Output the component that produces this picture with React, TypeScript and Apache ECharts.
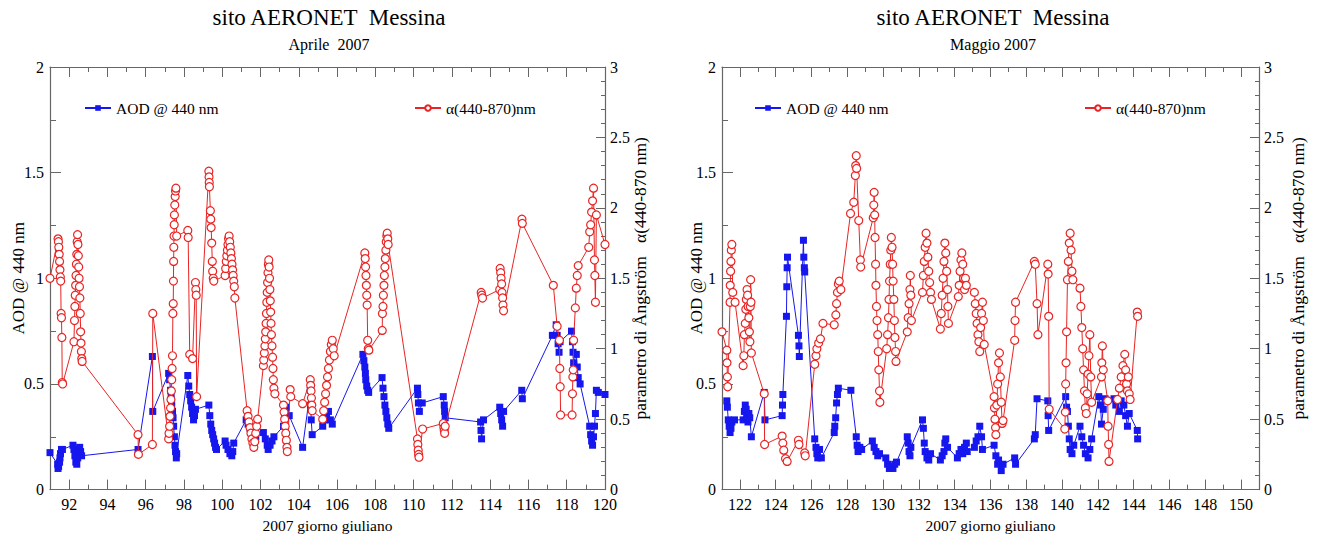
import React, { useEffect, useRef } from 'react';
import * as echarts from 'echarts';

const FONT = 'Liberation Serif';
const BLUE = '#1616ee';
const RED = '#e82424';
const AXIS = '#666666';

const mainTitle = 'sito AERONET  Messina';
const subTitles = ['Aprile  2007', 'Maggio 2007'];
const xName = '2007 giorno giuliano';
const yLeftName = 'AOD @ 440 nm';
const yRightName = 'parametro di Ångström   α(440-870 nm)';
const aodName = 'AOD @ 440 nm';
const alphaName = 'α(440-870)nm';

const aprilRange = [91, 120];
const mayRange = [121, 151];
const aprilLabelDays = [92, 94, 96, 98, 100, 102, 104, 106, 108, 110, 112, 114, 116, 118, 120];
const mayLabelDays = [122, 124, 126, 128, 130, 132, 134, 136, 138, 140, 142, 144, 146, 148, 150];

// [giorno giuliano, AOD @ 440 nm] - Aprile 2007
const aprilAod: number[][] = [
  [91.0, 0.175],
  [91.4, 0.12], [91.42, 0.10], [91.45, 0.11], [91.5, 0.13], [91.52, 0.15], [91.55, 0.17], [91.6, 0.19], [91.65, 0.19],
  [92.2, 0.21], [92.25, 0.19], [92.3, 0.16], [92.35, 0.13], [92.4, 0.12], [92.45, 0.15], [92.5, 0.18], [92.55, 0.2], [92.6, 0.18], [92.65, 0.16],
  [95.6, 0.19],
  [96.35, 0.63], [96.37, 0.37],
  [97.2, 0.55], [97.25, 0.52], [97.3, 0.47], [97.33, 0.44], [97.36, 0.4], [97.4, 0.37], [97.43, 0.34], [97.46, 0.3], [97.5, 0.25], [97.53, 0.21], [97.56, 0.18], [97.6, 0.15], [97.62, 0.17],
  [98.2, 0.54], [98.25, 0.49], [98.3, 0.45], [98.35, 0.42], [98.4, 0.39], [98.45, 0.36], [98.5, 0.33], [98.55, 0.35], [98.6, 0.38],
  [99.3, 0.4], [99.35, 0.35], [99.4, 0.31], [99.45, 0.28], [99.5, 0.26], [99.55, 0.24], [99.6, 0.22], [99.65, 0.2], [99.7, 0.19],
  [100.15, 0.23], [100.2, 0.21], [100.3, 0.19], [100.4, 0.17], [100.5, 0.16], [100.55, 0.18], [100.6, 0.22],
  [101.25, 0.33], [101.35, 0.31], [101.45, 0.29], [101.55, 0.27], [101.65, 0.26], [101.75, 0.25],
  [102.15, 0.27], [102.25, 0.24], [102.35, 0.21], [102.4, 0.19], [102.5, 0.21], [102.6, 0.23], [102.7, 0.25],
  [103.2, 0.3], [103.25, 0.34], [103.3, 0.37], [103.35, 0.39], [103.5, 0.35],
  [104.2, 0.2],
  [104.6, 0.47], [104.62, 0.4], [104.65, 0.33], [104.7, 0.26],
  [105.25, 0.3], [105.35, 0.33], [105.45, 0.35], [105.55, 0.37], [105.65, 0.33], [105.75, 0.31],
  [107.35, 0.64], [107.4, 0.61], [107.45, 0.58], [107.48, 0.55], [107.5, 0.52], [107.55, 0.49], [107.6, 0.47], [107.65, 0.46],
  [108.35, 0.53], [108.4, 0.48], [108.45, 0.44], [108.5, 0.4], [108.55, 0.37], [108.6, 0.34], [108.65, 0.31], [108.7, 0.29],
  [110.2, 0.48], [110.22, 0.45], [110.25, 0.41], [110.3, 0.37], [110.45, 0.41],
  [111.55, 0.44], [111.6, 0.4], [111.62, 0.37], [111.65, 0.34],
  [113.5, 0.32], [113.52, 0.28], [113.55, 0.24], [113.65, 0.33],
  [114.5, 0.39], [114.55, 0.36], [114.6, 0.33], [114.65, 0.3], [114.7, 0.37],
  [115.65, 0.47], [115.68, 0.43],
  [117.25, 0.73], [117.45, 0.78], [117.5, 0.73], [117.55, 0.69], [117.6, 0.65], [117.65, 0.7],
  [118.25, 0.75], [118.3, 0.7], [118.33, 0.65], [118.36, 0.6], [118.5, 0.64], [118.55, 0.58], [118.6, 0.53], [118.7, 0.5],
  [119.2, 0.3], [119.25, 0.26], [119.3, 0.23], [119.35, 0.21], [119.4, 0.25], [119.45, 0.3], [119.5, 0.36], [119.55, 0.47], [119.65, 0.46],
  [120.0, 0.45],
];

// [giorno giuliano, alfa di Angstrom] - Aprile 2007
const aprilAlpha: number[][] = [
  [91.0, 1.5],
  [91.42, 1.78], [91.44, 1.76], [91.46, 1.72], [91.48, 1.67], [91.5, 1.62], [91.52, 1.56], [91.54, 1.51], [91.56, 1.48], [91.58, 1.25], [91.6, 1.22], [91.62, 1.08], [91.64, 0.76], [91.66, 0.75],
  [92.25, 1.05], [92.28, 1.2], [92.3, 1.3], [92.32, 1.38], [92.34, 1.45], [92.36, 1.52], [92.38, 1.6], [92.4, 1.67], [92.42, 1.76], [92.44, 1.81], [92.46, 1.74], [92.48, 1.66], [92.5, 1.58], [92.52, 1.5], [92.54, 1.44], [92.56, 1.36], [92.58, 1.25], [92.6, 1.12], [92.62, 1.04], [92.64, 0.98], [92.66, 0.93], [92.68, 0.91],
  [95.6, 0.39], [95.62, 0.25],
  [96.35, 0.32], [96.37, 1.25],
  [97.2, 0.36], [97.22, 0.4], [97.25, 0.45], [97.27, 0.52], [97.3, 0.58], [97.32, 0.64], [97.34, 0.7], [97.36, 0.78], [97.38, 0.86], [97.4, 0.95], [97.42, 1.25], [97.44, 1.32], [97.45, 1.48], [97.46, 1.62], [97.47, 1.72], [97.48, 1.8], [97.49, 1.88], [97.5, 1.95], [97.52, 2.02], [97.54, 2.08], [97.56, 2.12], [97.58, 2.14], [97.62, 1.8],
  [98.2, 1.84], [98.22, 1.79], [98.3, 0.96], [98.45, 0.93], [98.6, 1.47], [98.62, 1.42], [98.64, 1.38], [98.66, 0.66],
  [99.3, 2.26], [99.31, 2.22], [99.32, 2.18], [99.33, 2.15], [99.38, 1.98], [99.4, 1.92], [99.42, 1.86], [99.45, 1.75], [99.48, 1.62], [99.5, 1.55], [99.53, 1.5], [99.56, 1.48],
  [100.15, 1.52], [100.18, 1.57], [100.21, 1.62], [100.24, 1.66], [100.27, 1.7], [100.3, 1.74], [100.33, 1.78], [100.36, 1.8], [100.39, 1.76], [100.42, 1.72], [100.45, 1.68], [100.48, 1.64], [100.51, 1.6], [100.54, 1.56], [100.57, 1.52], [100.6, 1.48], [100.63, 1.44], [100.66, 1.36],
  [101.3, 0.56], [101.35, 0.52], [101.4, 0.48], [101.45, 0.44], [101.5, 0.4], [101.55, 0.36], [101.6, 0.33], [101.65, 0.3], [101.7, 0.34], [101.75, 0.4], [101.8, 0.45], [101.85, 0.5],
  [102.15, 0.88], [102.17, 0.92], [102.2, 0.97], [102.23, 1.02], [102.25, 1.07], [102.27, 1.12], [102.29, 1.18], [102.31, 1.25], [102.33, 1.33], [102.35, 1.4], [102.37, 1.47], [102.39, 1.54], [102.41, 1.6], [102.43, 1.63], [102.45, 1.58], [102.47, 1.5], [102.49, 1.42], [102.51, 1.34], [102.53, 1.26], [102.55, 1.18], [102.57, 1.1], [102.6, 1.02], [102.63, 0.94], [102.65, 0.86], [102.67, 0.78], [102.7, 0.72], [102.75, 0.68],
  [103.2, 0.6], [103.23, 0.55], [103.26, 0.5], [103.29, 0.45], [103.32, 0.4], [103.35, 0.35], [103.38, 0.3], [103.4, 0.27], [103.55, 0.71], [103.58, 0.66],
  [104.2, 0.61],
  [104.6, 0.78], [104.62, 0.74], [104.64, 0.7], [104.66, 0.65], [104.68, 0.6], [104.7, 0.56],
  [105.25, 0.5], [105.3, 0.56], [105.35, 0.62], [105.4, 0.68], [105.45, 0.74], [105.5, 0.8], [105.55, 0.86], [105.6, 0.92], [105.65, 0.98], [105.7, 1.03], [105.75, 1.06], [105.8, 1.0], [105.85, 0.95],
  [107.45, 1.68], [107.47, 1.64], [107.49, 1.58], [107.51, 1.52], [107.53, 1.45], [107.55, 1.38], [107.57, 1.31], [107.6, 1.06], [107.63, 1.0], [107.66, 0.99],
  [108.36, 1.13], [108.37, 1.25], [108.4, 1.3], [108.42, 1.38], [108.45, 1.45], [108.47, 1.52], [108.5, 1.58], [108.52, 1.64], [108.55, 1.7], [108.57, 1.76], [108.6, 1.8], [108.62, 1.82], [108.65, 1.78], [108.67, 1.74],
  [110.2, 0.36], [110.22, 0.32], [110.24, 0.28], [110.26, 0.25], [110.28, 0.23], [110.47, 0.43],
  [111.55, 0.47], [111.58, 0.44], [111.6, 0.42], [111.62, 0.4], [111.65, 0.45],
  [113.53, 1.4], [113.56, 1.38], [113.6, 1.36],
  [114.5, 1.42], [114.52, 1.57], [114.55, 1.54], [114.57, 1.5], [114.6, 1.46], [114.62, 1.4], [114.65, 1.36], [114.67, 1.31], [114.7, 1.27],
  [115.66, 1.92], [115.68, 1.89],
  [117.3, 1.45], [117.5, 1.16], [117.62, 1.06], [117.64, 0.86], [117.66, 0.73], [117.68, 0.53],
  [118.28, 0.53], [118.3, 0.68], [118.32, 0.8], [118.34, 0.85], [118.36, 1.06],
  [118.45, 1.29], [118.5, 1.43], [118.55, 1.52], [118.6, 1.59],
  [119.15, 1.72], [119.2, 1.83], [119.25, 1.88], [119.3, 1.97], [119.35, 2.05], [119.4, 2.14], [119.45, 1.63], [119.47, 1.52], [119.5, 1.33], [119.55, 1.95],
  [120.0, 1.74],
];

// [giorno giuliano, AOD @ 440 nm] - Maggio 2007
const mayAod: number[][] = [
  [121.27, 0.42], [121.3, 0.39], [121.35, 0.33], [121.4, 0.3], [121.45, 0.27], [121.5, 0.29], [121.55, 0.32], [121.7, 0.33],
  [122.18, 0.33], [122.25, 0.37], [122.3, 0.4], [122.35, 0.38], [122.4, 0.35], [122.45, 0.32], [122.5, 0.36], [122.55, 0.34], [122.64, 0.25],
  [123.36, 0.46], [123.4, 0.33],
  [124.36, 0.35], [124.38, 0.4], [124.4, 0.45], [124.6, 0.82], [124.62, 0.96], [124.64, 1.05], [124.66, 1.1],
  [125.27, 0.73], [125.3, 0.68], [125.32, 0.63], [125.55, 1.18], [125.57, 1.1], [125.6, 1.05], [125.62, 1.03],
  [126.18, 0.24], [126.25, 0.2], [126.3, 0.17], [126.35, 0.15], [126.45, 0.19], [126.55, 0.15],
  [127.27, 0.27], [127.3, 0.3], [127.35, 0.34], [127.4, 0.41], [127.45, 0.45], [127.5, 0.48],
  [128.2, 0.47],
  [128.5, 0.25], [128.55, 0.21], [128.6, 0.18], [128.7, 0.2], [128.8, 0.19],
  [129.4, 0.23], [129.5, 0.2], [129.6, 0.18], [129.7, 0.16], [129.8, 0.17],
  [130.15, 0.15], [130.25, 0.12], [130.35, 0.1], [130.45, 0.11], [130.55, 0.1], [130.65, 0.12], [130.75, 0.13],
  [131.35, 0.25], [131.4, 0.22], [131.45, 0.18], [131.5, 0.16], [131.55, 0.2],
  [132.2, 0.33], [132.25, 0.29], [132.3, 0.22], [132.35, 0.18], [132.45, 0.15], [132.55, 0.14], [132.65, 0.17],
  [133.2, 0.14], [133.3, 0.16], [133.4, 0.18], [133.45, 0.22], [133.5, 0.24], [133.6, 0.2],
  [134.15, 0.15], [134.25, 0.17], [134.35, 0.19], [134.45, 0.17], [134.55, 0.2], [134.65, 0.22], [134.7, 0.18],
  [135.1, 0.2], [135.2, 0.23], [135.3, 0.25], [135.4, 0.3], [135.5, 0.25], [135.55, 0.19],
  [136.2, 0.21], [136.3, 0.16], [136.4, 0.12], [136.45, 0.14], [136.6, 0.09], [136.7, 0.12],
  [137.35, 0.15], [137.4, 0.12],
  [138.45, 0.24], [138.5, 0.26], [138.6, 0.43],
  [139.2, 0.42], [139.22, 0.35], [139.25, 0.28],
  [140.2, 0.44], [140.25, 0.39], [140.3, 0.37], [140.35, 0.3], [140.4, 0.24], [140.45, 0.19], [140.55, 0.17], [140.65, 0.21],
  [141.0, 0.3], [141.1, 0.25], [141.2, 0.21], [141.3, 0.17], [141.45, 0.15], [141.55, 0.19], [141.65, 0.24],
  [142.05, 0.44], [142.15, 0.4], [142.2, 0.31], [142.3, 0.38], [142.4, 0.43],
  [142.9, 0.43], [143.0, 0.4], [143.2, 0.37], [143.3, 0.42], [143.45, 0.4], [143.55, 0.35], [143.65, 0.3], [143.75, 0.36],
  [144.2, 0.28], [144.22, 0.24],
];

// [giorno giuliano, alfa di Angstrom] - Maggio 2007
const mayAlpha: number[][] = [
  [121.0, 1.12], [121.27, 0.99], [121.28, 0.9], [121.3, 0.8], [121.32, 0.73],
  [121.45, 1.33], [121.46, 1.45], [121.48, 1.55], [121.5, 1.62], [121.52, 1.7], [121.55, 1.74], [121.6, 1.4], [121.73, 1.33],
  [122.18, 0.88], [122.22, 0.95], [122.25, 1.1], [122.3, 1.18], [122.33, 1.28], [122.36, 1.35], [122.4, 1.42], [122.43, 1.38], [122.46, 1.3], [122.5, 1.22], [122.53, 1.12], [122.56, 1.05], [122.58, 1.3], [122.6, 1.49], [122.62, 1.33], [122.64, 0.97],
  [123.36, 0.68], [123.38, 0.32],
  [124.36, 0.38], [124.4, 0.33], [124.45, 0.28], [124.55, 0.22], [124.64, 0.2],
  [125.27, 0.35], [125.3, 0.32], [125.62, 0.26], [125.65, 0.24],
  [126.18, 0.89], [126.25, 0.95], [126.3, 1.0], [126.4, 1.04], [126.5, 1.07], [126.64, 1.18],
  [127.27, 1.17], [127.36, 1.24], [127.4, 1.32], [127.45, 1.4], [127.5, 1.46], [127.55, 1.48], [127.64, 1.42],
  [128.18, 1.96], [128.36, 2.04], [128.45, 2.23], [128.47, 2.3], [128.5, 2.37], [128.52, 2.28], [128.64, 1.91], [128.73, 1.63], [128.75, 1.58],
  [129.45, 1.93], [129.48, 2.02], [129.5, 2.11], [129.53, 1.95], [129.55, 1.79], [129.58, 1.6], [129.6, 1.45], [129.63, 1.3], [129.66, 1.2], [129.7, 1.1], [129.73, 0.98], [129.76, 0.85], [129.8, 0.7], [129.82, 0.62],
  [130.2, 1.0], [130.25, 1.1], [130.3, 1.22], [130.33, 1.35], [130.36, 1.48], [130.4, 1.6], [130.43, 1.7], [130.46, 1.79], [130.5, 1.72], [130.53, 1.6], [130.56, 1.48], [130.6, 1.35], [130.63, 1.2], [130.66, 1.08], [130.7, 0.98], [130.72, 0.91],
  [131.35, 1.12], [131.4, 1.22], [131.45, 1.32], [131.5, 1.42], [131.52, 1.52], [131.55, 1.38], [131.58, 1.2],
  [132.2, 1.4], [132.25, 1.52], [132.3, 1.62], [132.35, 1.72], [132.4, 1.82], [132.45, 1.75], [132.5, 1.65], [132.55, 1.55], [132.6, 1.47], [132.65, 1.4], [132.7, 1.35],
  [133.2, 1.14], [133.25, 1.25], [133.3, 1.38], [133.35, 1.5], [133.4, 1.62], [133.45, 1.75], [133.5, 1.68], [133.55, 1.55], [133.6, 1.42], [133.62, 1.3], [133.65, 1.18],
  [134.2, 1.37], [134.25, 1.45], [134.3, 1.55], [134.35, 1.63], [134.4, 1.68], [134.45, 1.6], [134.5, 1.5], [134.55, 1.42], [134.6, 1.5], [134.65, 1.45],
  [135.1, 1.4], [135.15, 1.32], [135.2, 1.25], [135.25, 1.18], [135.3, 1.1], [135.35, 1.05], [135.4, 0.98], [135.45, 1.15], [135.5, 1.25], [135.55, 1.33], [135.6, 1.2], [135.65, 1.03],
  [136.2, 0.66], [136.22, 0.58], [136.25, 0.5], [136.28, 0.44], [136.3, 0.39], [136.35, 0.6], [136.4, 0.75], [136.45, 0.9], [136.5, 0.97], [136.55, 0.8], [136.6, 0.62], [136.65, 0.47], [136.7, 0.49],
  [137.35, 1.06], [137.37, 1.2], [137.4, 1.33],
  [138.45, 1.62], [138.5, 1.6], [138.6, 1.32], [138.65, 1.1],
  [139.2, 1.6], [139.22, 1.53], [139.25, 1.23], [139.28, 0.57],
  [140.15, 0.43], [140.18, 0.55], [140.2, 0.75], [140.22, 0.9], [140.25, 1.12], [140.3, 1.49], [140.35, 1.62], [140.4, 1.75], [140.45, 1.82], [140.5, 1.7], [140.55, 1.55], [140.6, 1.49],
  [141.0, 1.43], [141.05, 1.3], [141.1, 1.15], [141.15, 1.0], [141.2, 0.85], [141.25, 0.7], [141.3, 0.58], [141.35, 0.54], [141.4, 0.68], [141.45, 0.82], [141.5, 0.95], [141.55, 1.1], [141.6, 0.8], [141.65, 0.62],
  [142.2, 0.8], [142.22, 0.9], [142.25, 1.02], [142.3, 0.85], [142.55, 0.63], [142.57, 0.45], [142.6, 0.32], [142.62, 0.2],
  [143.1, 0.64], [143.2, 0.72], [143.3, 0.8], [143.4, 0.88], [143.5, 0.96], [143.55, 0.85], [143.6, 0.75], [143.65, 0.7], [143.7, 0.8], [143.75, 0.68], [143.8, 0.64],
  [144.2, 1.26], [144.22, 1.23],
];

const txt = (size: number) => ({ fontFamily: FONT, fontSize: size, color: '#000' });

function xAxes(grid: number, range: number[], labelDays: number[]) {
  const base = {
    type: 'value',
    gridIndex: grid,
    min: range[0],
    max: range[1],
    interval: 1,
    splitLine: { show: false },
  };
  return [
    {
      ...base,
      position: 'bottom',
      axisLine: { lineStyle: { color: AXIS, width: 1.2 } },
      axisTick: { inside: true, length: 10, customValues: labelDays, lineStyle: { color: AXIS } },
      axisLabel: { ...txt(16), margin: 8, lineHeight: 13, customValues: labelDays },
      name: xName,
      nameLocation: 'middle',
      nameGap: 22,
      nameTextStyle: txt(15.5),
    },
    {
      ...base,
      position: 'bottom',
      axisLine: { show: false },
      axisTick: { inside: true, length: 5, lineStyle: { color: AXIS } },
      axisLabel: { show: false },
    },
    {
      ...base,
      position: 'top',
      axisLine: { lineStyle: { color: AXIS, width: 1.2 } },
      axisTick: { inside: true, length: 10, customValues: labelDays, lineStyle: { color: AXIS } },
      axisLabel: { show: false },
    },
    {
      ...base,
      position: 'top',
      axisLine: { show: false },
      axisTick: { inside: true, length: 5, lineStyle: { color: AXIS } },
      axisLabel: { show: false },
    },
  ];
}

function yAxes(grid: number, leftGap: number, rightGap: number) {
  return [
    {
      type: 'value',
      gridIndex: grid,
      position: 'left',
      min: 0,
      max: 2,
      interval: 0.5,
      splitLine: { show: false },
      axisLine: { show: true, lineStyle: { color: AXIS, width: 1.2 } },
      axisTick: { show: true, inside: true, length: 11, lineStyle: { color: AXIS } },
      minorTick: { show: true, splitNumber: 2, length: 6, lineStyle: { color: AXIS } },
      axisLabel: { ...txt(16), margin: 6 },
      name: yLeftName,
      nameLocation: 'middle',
      nameRotate: 90,
      nameGap: leftGap,
      nameMoveOverlap: false,
      nameTextStyle: txt(17),
    },
    {
      type: 'value',
      gridIndex: grid,
      position: 'right',
      min: 0,
      max: 3,
      interval: 0.5,
      splitLine: { show: false },
      axisLine: { show: true, lineStyle: { color: AXIS, width: 1.2 } },
      axisTick: { show: true, inside: true, length: 9, lineStyle: { color: AXIS } },
      minorTick: { show: true, splitNumber: 5, length: 4, lineStyle: { color: AXIS } },
      axisLabel: { ...txt(16), margin: 5, lineHeight: 12 },
      name: yRightName,
      nameLocation: 'middle',
      nameRotate: 90,
      nameGap: rightGap,
      nameMoveOverlap: false,
      nameTextStyle: txt(17.5),
    },
  ];
}

function aodSeries(data: number[][], xi: number, yi: number) {
  return {
    type: 'line',
    name: aodName,
    xAxisIndex: xi,
    yAxisIndex: yi,
    data,
    symbol: 'rect',
    symbolSize: 7,
    itemStyle: { color: BLUE },
    lineStyle: { color: BLUE, width: 1 },
    z: 2,
  };
}

function alphaSeries(data: number[][], xi: number, yi: number) {
  return {
    type: 'line',
    name: alphaName,
    xAxisIndex: xi,
    yAxisIndex: yi,
    data,
    symbol: 'circle',
    symbolSize: 8,
    itemStyle: { color: '#ffffff', borderColor: RED, borderWidth: 1.2 },
    lineStyle: { color: RED, width: 1 },
    z: 3,
  };
}

function legend(name: string, left: number) {
  return {
    data: [name],
    left,
    top: 100,
    padding: 0,
    itemWidth: 26,
    itemHeight: 7,
    itemGap: 6,
    textStyle: txt(15.5),
    selectedMode: false,
  };
}

function titleTexts(cx: number, sub: string) {
  return [
    {
      type: 'text',
      x: cx,
      y: 6,
      style: {
        text: mainTitle,
        fontFamily: FONT,
        fontSize: 23,
        fill: '#000',
        align: 'center',
        textAlign: 'center',
        verticalAlign: 'top',
        textVerticalAlign: 'top',
      },
    },
    {
      type: 'text',
      x: cx,
      y: 36,
      style: {
        text: sub,
        fontFamily: FONT,
        fontSize: 16,
        fill: '#000',
        align: 'center',
        textAlign: 'center',
        verticalAlign: 'top',
        textVerticalAlign: 'top',
      },
    },
  ];
}

const option: any = {
  animation: false,
  backgroundColor: '#ffffff',
  textStyle: { fontFamily: FONT },
  graphic: [...titleTexts(329, subTitles[0]), ...titleTexts(993, subTitles[1])],
  legend: [
    legend(aodName, 84),
    legend(alphaName, 414),
    legend(aodName, 754),
    legend(alphaName, 1084),
  ],
  grid: [
    { left: 50, right: 1331 - 605, top: 67, bottom: 538 - 494 },
    { left: 722, right: 1331 - 1259, top: 67, bottom: 538 - 497 },
  ],
  xAxis: [...xAxes(0, aprilRange, aprilLabelDays), ...xAxes(1, mayRange, mayLabelDays)],
  yAxis: [...yAxes(0, 23, 26), ...yAxes(1, 17, 30)],
  series: [
    aodSeries(aprilAod, 0, 0),
    alphaSeries(aprilAlpha, 0, 1),
    aodSeries(mayAod, 4, 2),
    alphaSeries(mayAlpha, 4, 3),
  ],
};

export default function App() {
  const ref = useRef<HTMLDivElement>(null);
  useEffect(() => {
    if (!ref.current) return;
    const chart = echarts.init(ref.current, null, { renderer: 'svg' });
    chart.setOption(option);
    return () => chart.dispose();
  }, []);
  return (
    <div
      ref={ref}
      style={{ position: 'absolute', left: 0, top: 0, width: 1331, height: 538, background: '#fff' }}
    />
  );
}
